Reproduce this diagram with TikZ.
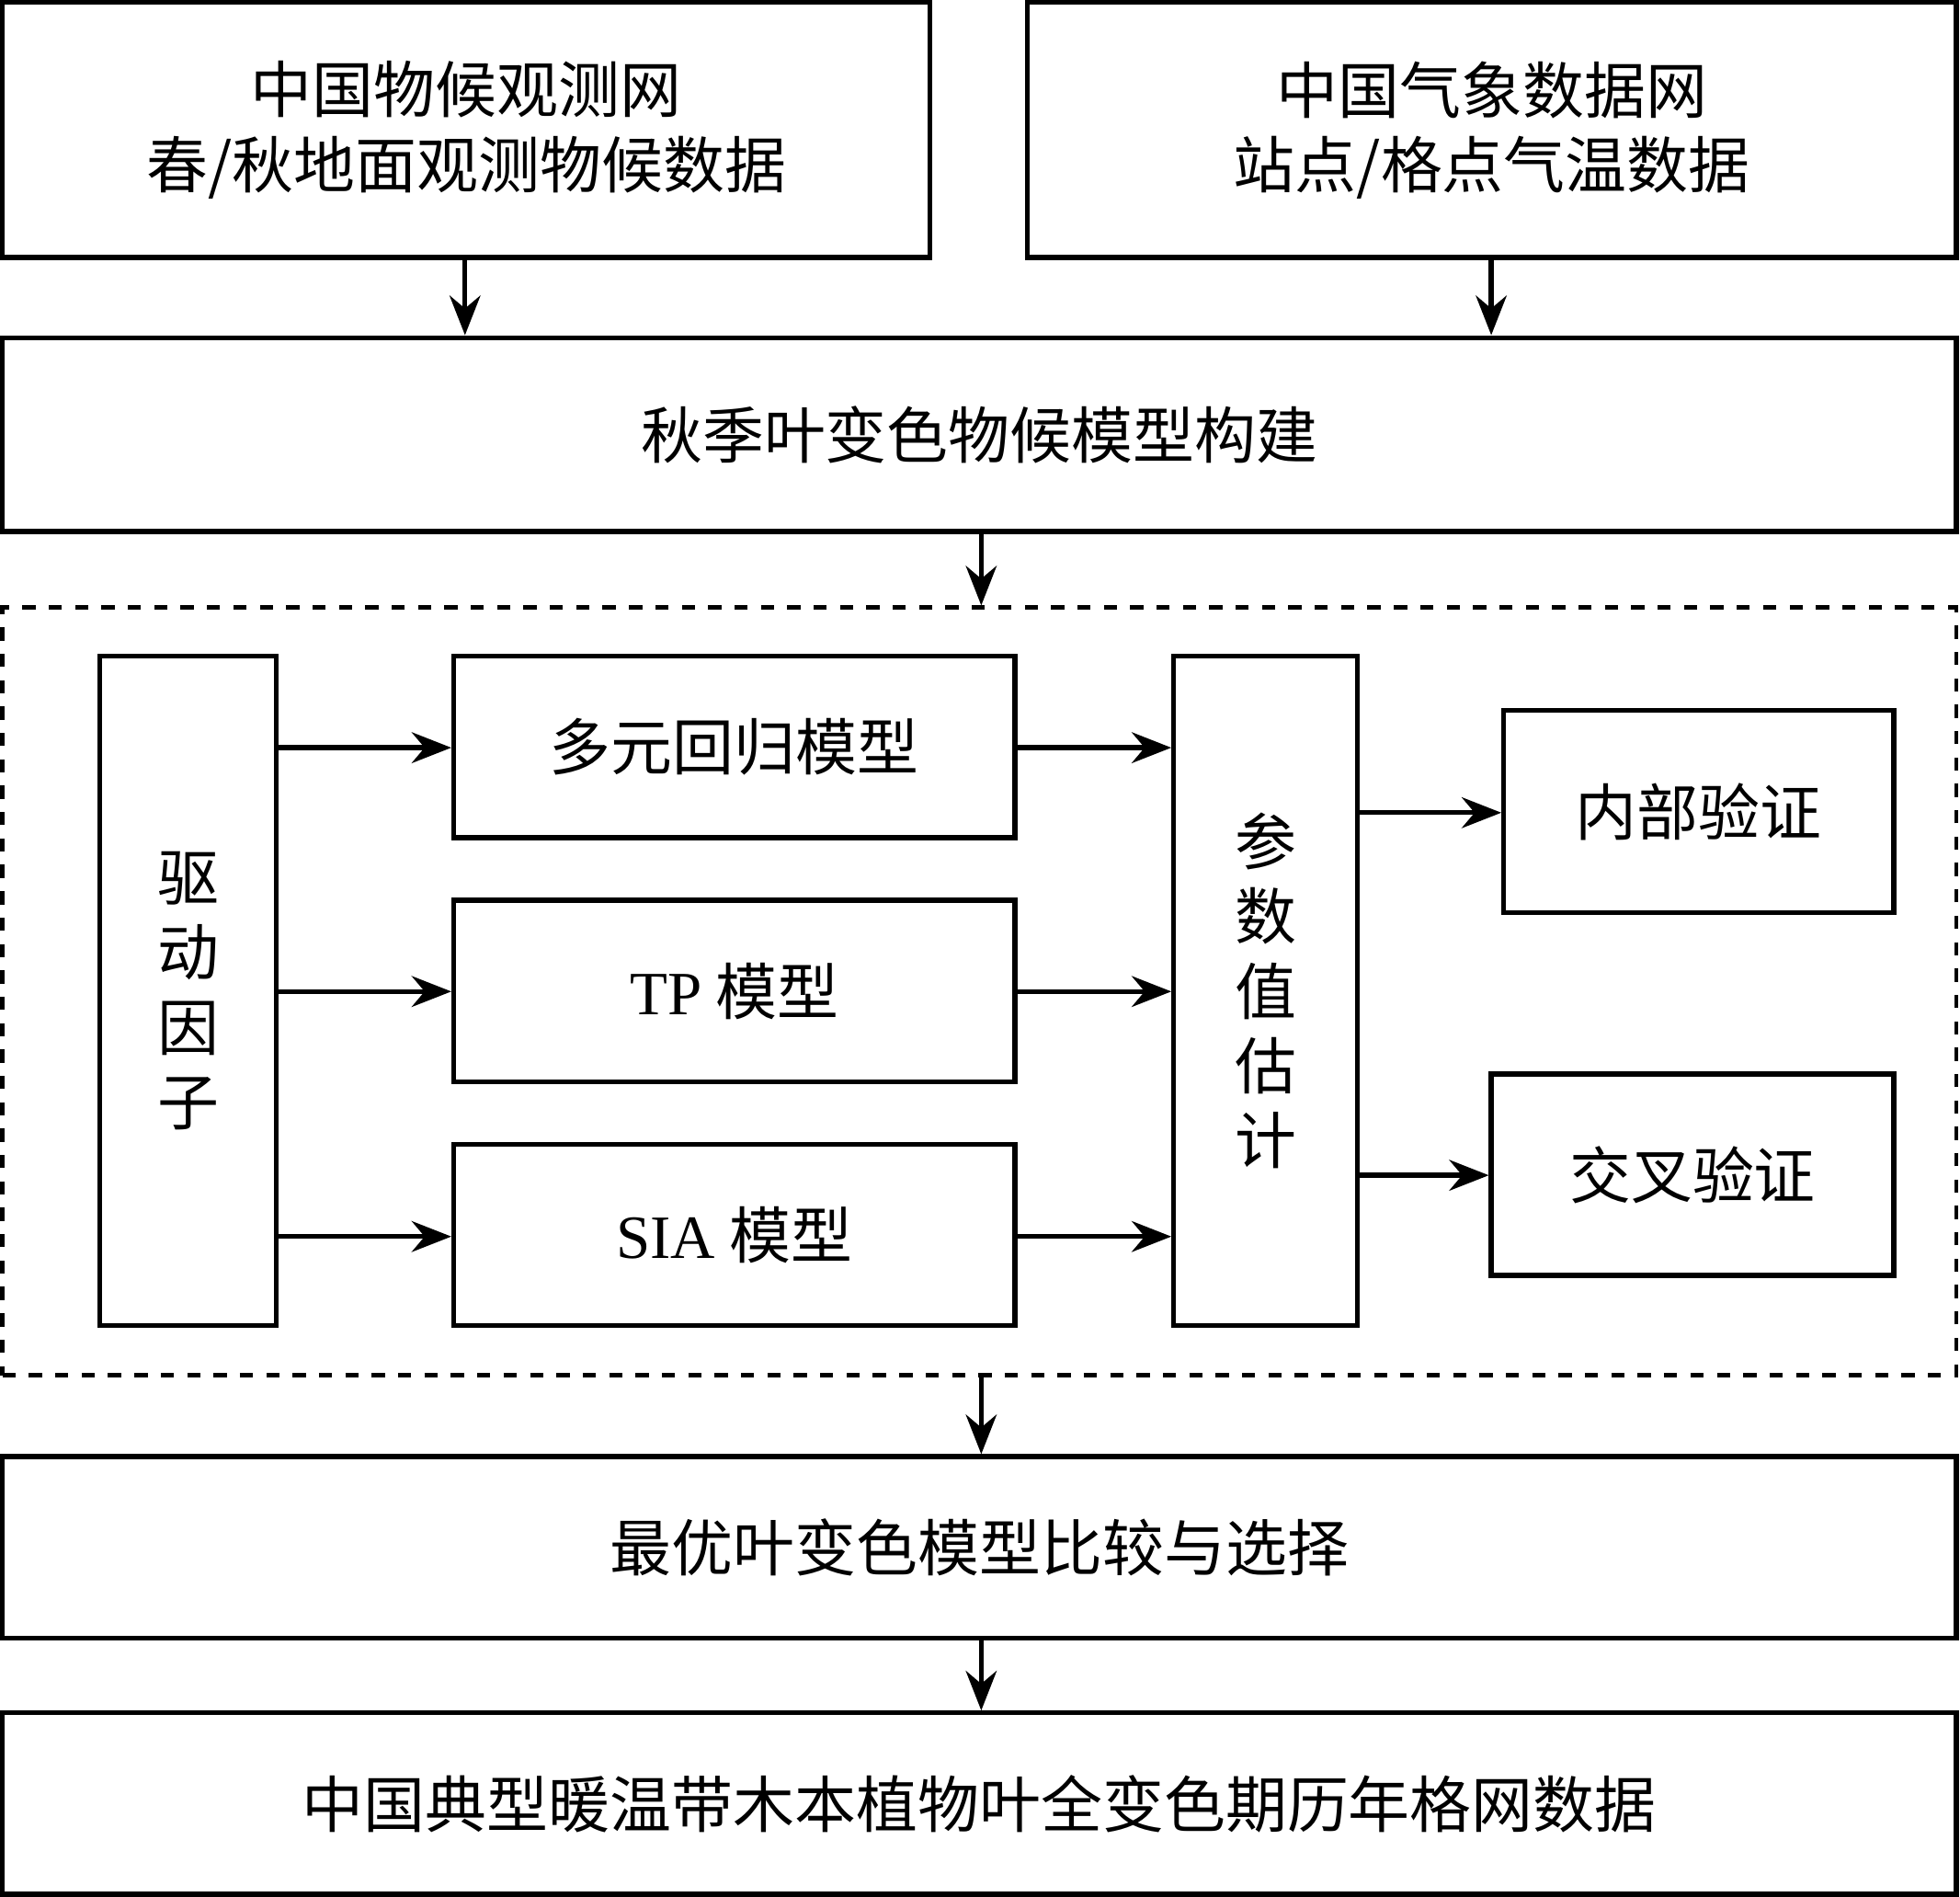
\documentclass[tikz,border=0pt]{standalone}
\usepackage{fontspec}
\setmainfont{Liberation Serif}
\newfontfamily\cjk{Noto Sans CJK SC}
\usetikzlibrary{arrows.meta,fit}
\begin{document}
\begin{tikzpicture}[x=0.01cm,y=-0.01cm,
 box/.style={draw,line width=1.1pt,inner sep=0pt},
 txt/.style={font=\fontsize{14}{17}\selectfont\cjk,align=center,inner sep=0pt},
 arr/.style={-{Stealth[length=9pt,width=7pt]},line width=1.1pt}]
\useasboundingbox (0,0) rectangle (1568,1517);
\node[box,fit={(2,2)(744,206)},label={[txt]center:中国物候观测网\\春/秋地面观测物候数据}] (a) {};
\node[box,fit={(822,2)(1565,206)},label={[txt]center:中国气象数据网\\站点/格点气温数据}] (b) {};
\node[box,fit={(2,270)(1565,425)},label={[txt]center:秋季叶变色物候模型构建}] (c) {};
\node[draw,dashed,line width=1pt,inner sep=0pt,fit={(2,486)(1565,1100)}] (d) {};
\node[box,fit={(80,525)(221,1060)},label={[txt]center:驱\\动\\因\\子}] (drv) {};
\node[box,fit={(363,525)(812,670)},label={[txt]center:多元回归模型}] (m1) {};
\node[box,fit={(363,720)(812,865)},label={[txt]center:{\rmfamily TP} 模型}] (m2) {};
\node[box,fit={(363,915)(812,1060)},label={[txt]center:{\rmfamily SIA} 模型}] (m3) {};
\node[box,fit={(939,525)(1086,1060)},label={[txt]center:参\\数\\值\\估\\计}] (p) {};
\node[box,fit={(1203,568)(1515,730)},label={[txt]center:内部验证}] (v1) {};
\node[box,fit={(1193,859)(1515,1020)},label={[txt]center:交叉验证}] (v2) {};
\node[box,fit={(2,1165)(1565,1310)},label={[txt]center:最优叶变色模型比较与选择}] (e) {};
\node[box,fit={(2,1370)(1565,1515)},label={[txt]center:中国典型暖温带木本植物叶全变色期历年格网数据}] (f) {};
\draw[arr] (a.south -| 372,0) -- (c.north -| 372,0);
\draw[arr] (b.south -| 1193,0) -- (c.north -| 1193,0);
\draw[arr] (c.south -| 785,0) -- (d.north -| 785,0);
\foreach \m/\y in {m1/598,m2/793,m3/989}{
 \draw[arr] (drv.east |- 0,\y) -- (\m.west |- 0,\y);
 \draw[arr] (\m.east |- 0,\y) -- (p.west |- 0,\y);}
\draw[arr] (p.east |- 0,650) -- (v1.west |- 0,650);
\draw[arr] (p.east |- 0,940) -- (v2.west |- 0,940);
\draw[arr] (d.south -| 785,0) -- (e.north -| 785,0);
\draw[arr] (e.south -| 785,0) -- (f.north -| 785,0);
\end{tikzpicture}
\end{document}
